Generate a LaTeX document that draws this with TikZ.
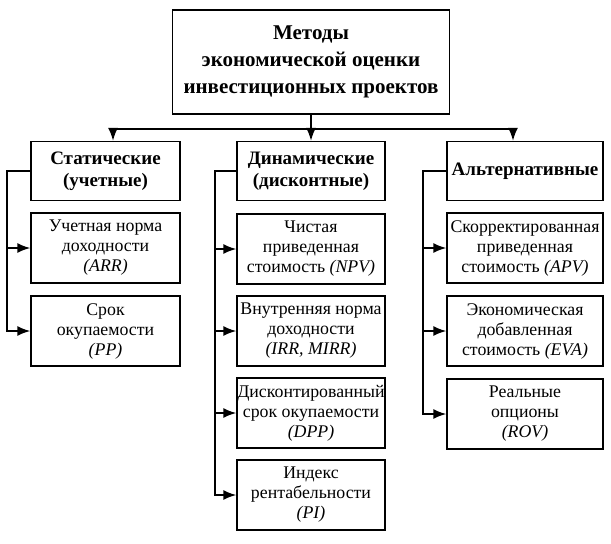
\documentclass[tikz,border=0pt]{standalone}
\usepackage{fontspec}
\setmainfont{Liberation Serif}
\usetikzlibrary{arrows.meta}

\tikzset{
  box/.style={draw, line width=1.5pt, align=center, inner sep=0pt,
    font=\fontsize{17.8}{20}\selectfont},
  head/.style={box, font=\fontsize{19}{22}\selectfont\bfseries},
  title/.style={box, font=\fontsize{21}{27}\selectfont\bfseries},
  conn/.style={line width=1.5pt},
  pointer/.style={conn, -{Latex[length=13pt,width=10pt]}}
}

\begin{document}
\begin{tikzpicture}[x=1pt,y=-1pt]
\useasboundingbox (0,0) rectangle (611,544);

\node[title, minimum width=277pt, minimum height=104pt] (meth) at (311,62)
  {Методы\\экономической оценки\\инвестиционных проектов};

\node[head, minimum width=149pt, minimum height=59pt] (stat) at (105.5,171) {Статические\\(учетные)};
\node[head, minimum width=148pt, minimum height=59pt] (dyn) at (311,171) {Динамические\\(дисконтные)};
\node[head, minimum width=156pt, minimum height=59pt] (alt) at (525,171) {Альтернативные};

\node[box, minimum width=149pt, minimum height=70pt] (arr) at (105.5,248) {Учетная норма\\доходности\\\textit{(ARR)}};
\node[box, minimum width=149pt, minimum height=70pt] (pp) at (105.5,331) {Срок\\окупаемости\\\textit{(PP)}};

\node[box, minimum width=148pt, minimum height=70pt] (npv) at (311,249) {Чистая\\приведенная\\стоимость \textit{(NPV)}};
\node[box, minimum width=148pt, minimum height=70pt] (irr) at (311,331) {Внутренняя норма\\доходности\\\textit{(IRR, MIRR)}};
\node[box, minimum width=148pt, minimum height=70pt] (dpp) at (311,413) {Дисконтированный\\срок окупаемости\\\textit{(DPP)}};
\node[box, minimum width=148pt, minimum height=70pt] (pi) at (311,495) {Индекс\\рентабельности\\\textit{(PI)}};

\node[box, minimum width=156pt, minimum height=70pt] (apv) at (525,248) {Скорректированная\\приведенная\\стоимость \textit{(APV)}};
\node[box, minimum width=156pt, minimum height=70pt] (eva) at (525,331) {Экономическая\\добавленная\\стоимость \textit{(EVA)}};
\node[box, minimum width=156pt, minimum height=70pt] (rov) at (525,414) {Реальные\\опционы\\\textit{(ROV)}};

% bus under the title
\coordinate (busL) at (113,129);
\coordinate (busR) at (513,129);
\draw[conn] (busL) -- (busR);
\draw[pointer] (meth.south) -- (dyn.north);
\draw[pointer] (busL) -- (busL |- stat.north);
\draw[pointer] (busR) -- (busR |- alt.north);

% side lines
\coordinate (sideS) at (7,0);
\coordinate (sideD) at (215,0);
\coordinate (sideA) at (423,0);

\draw[pointer] (stat.west) -| (sideS |- pp.west) -- (pp.west);
\draw[pointer] (sideS |- arr.west) -- (arr.west);

\draw[pointer] (dyn.west) -| (sideD |- pi.west) -- (pi.west);
\draw[pointer] (sideD |- npv.west) -- (npv.west);
\draw[pointer] (sideD |- irr.west) -- (irr.west);
\draw[pointer] (sideD |- dpp.west) -- (dpp.west);

\draw[pointer] (alt.west) -| (sideA |- rov.west) -- (rov.west);
\draw[pointer] (sideA |- apv.west) -- (apv.west);
\draw[pointer] (sideA |- eva.west) -- (eva.west);
\end{tikzpicture}
\end{document}
